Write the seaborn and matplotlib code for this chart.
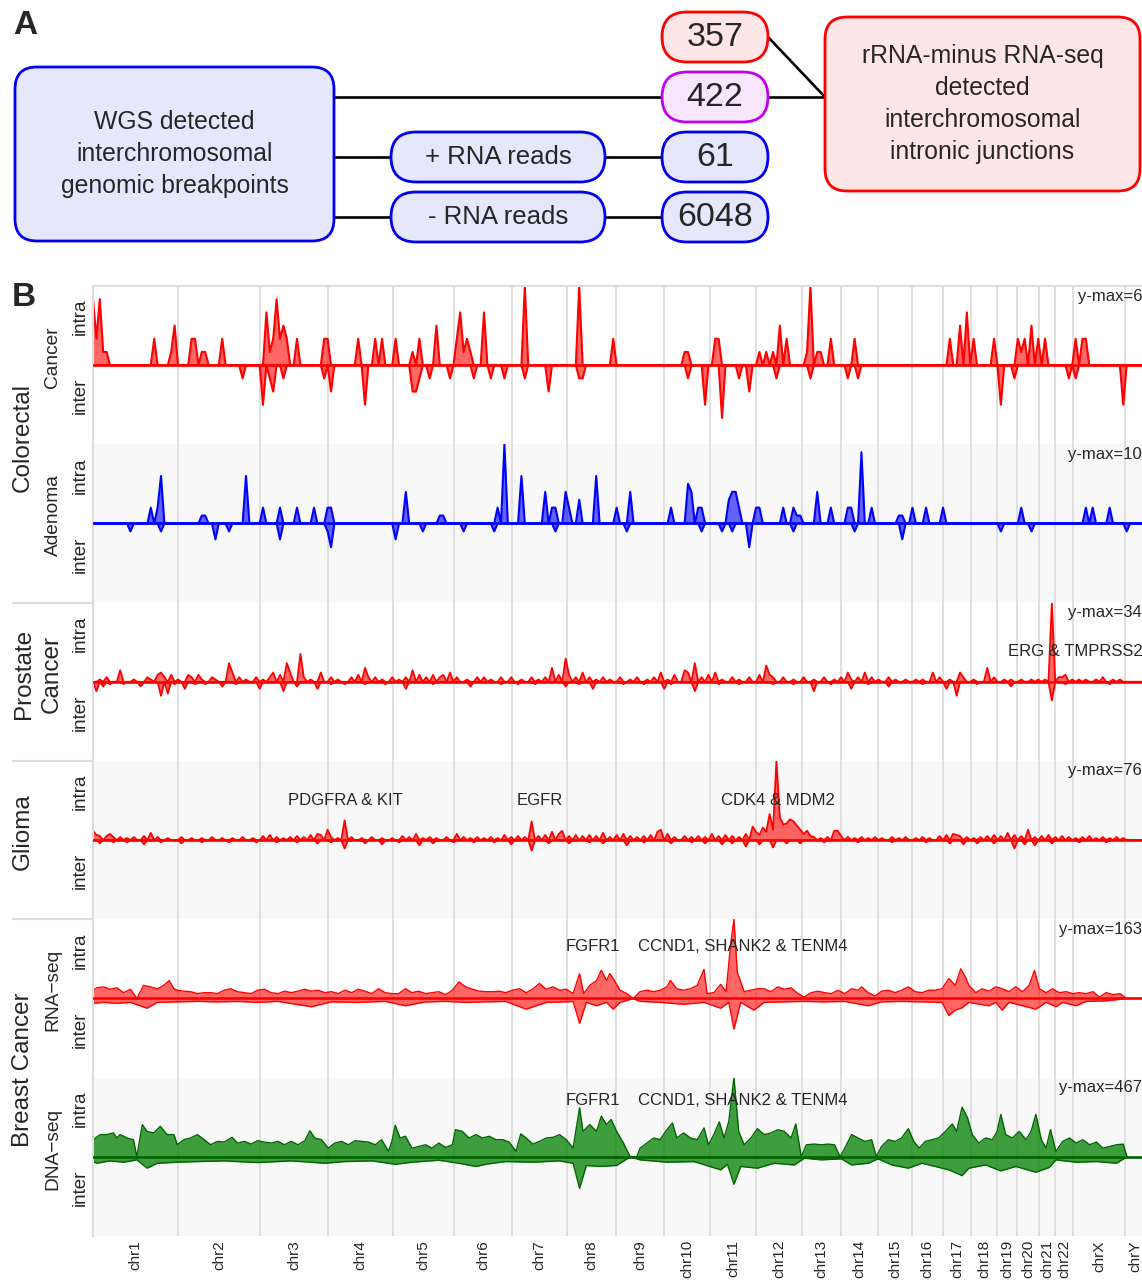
import numpy as np
import pandas as pd
import matplotlib
matplotlib.use("Agg")
import matplotlib.pyplot as plt
import seaborn as sns
from matplotlib.patches import FancyBboxPatch
from matplotlib.transforms import blended_transform_factory

# ── Genome axis (hg19) ────────────────────────────────────────────────────────
CHROMS = ["chr1", "chr2", "chr3", "chr4", "chr5", "chr6", "chr7", "chr8",
          "chr9", "chr10", "chr11", "chr12", "chr13", "chr14", "chr15",
          "chr16", "chr17", "chr18", "chr19", "chr20", "chr21", "chr22",
          "chrX", "chrY"]
CHROM_LEN_MB = [249.25, 243.20, 198.02, 191.15, 180.92, 171.12, 159.14,
                146.36, 141.21, 135.53, 135.01, 133.85, 115.17, 107.35,
                102.53, 90.35, 81.20, 78.08, 59.13, 63.03, 48.13, 51.30,
                155.27, 59.37]
BIN_MB = 10

# ── Panel A counts ────────────────────────────────────────────────────────────
WGS_LABEL = "WGS detected\ninterchromosomal\ngenomic breakpoints"
RNA_LABEL = "rRNA-minus RNA-seq\ndetected\ninterchromosomal\nintronic junctions"
READ_GROUPS = ["+ RNA reads", "- RNA reads"]
COUNTS = ["357", "422", "61", "6048"]

# ── Panel B tracks: y-max of each track ───────────────────────────────────────
YMAX = [6, 10, 34, 76, 163, 467]

# sparse tracks: {genome position (Mb): junction count} on the 10 Mb bins
CRC_CANCER_INTRA = {
    0: 5, 10: 2, 20: 5, 30: 1, 40: 1, 180: 2, 230: 1, 240: 3, 290: 2, 300: 2,
    320: 1, 330: 1, 380: 2, 510: 4, 520: 1, 530: 2, 540: 5, 550: 2, 560: 3,
    570: 2, 600: 2, 680: 2, 690: 2, 780: 2, 830: 2, 850: 2, 890: 2, 940: 1,
    960: 2, 1010: 3, 1070: 2, 1080: 4, 1090: 1, 1100: 2, 1110: 1, 1150: 4,
    1270: 6, 1430: 6, 1530: 2, 1740: 1, 1750: 1, 1830: 2, 1840: 2, 1960: 1,
    1980: 1, 2000: 1, 2020: 3, 2040: 2, 2100: 1, 2110: 6, 2130: 1, 2140: 1,
    2170: 2, 2240: 2, 2520: 2, 2550: 3, 2570: 4, 2590: 2, 2650: 2, 2720: 2,
    2730: 1, 2740: 2, 2760: 3, 2780: 2, 2800: 2, 2890: 2, 2910: 2, 2920: 2,
}
CRC_CANCER_INTER = {
    440: 1, 500: 3, 520: 1, 530: 2, 560: 1, 680: 1, 700: 2, 800: 3, 940: 2,
    950: 2, 960: 1, 990: 1, 1050: 1, 1120: 1, 1170: 1, 1210: 1, 1270: 1,
    1340: 2, 1430: 1, 1440: 1, 1750: 1, 1800: 3, 1850: 4, 1900: 1, 1930: 2,
    2010: 1, 2110: 1, 2220: 1, 2250: 1, 2670: 3, 2710: 1, 2870: 1, 2890: 1,
    3030: 3,
}
CRC_ADENOMA_INTRA = {
    170: 2, 190: 2, 200: 6, 320: 1, 330: 1, 450: 6, 500: 2, 550: 2, 600: 2,
    650: 2, 690: 2, 700: 2, 920: 4, 1020: 1, 1030: 1, 1190: 2, 1210: 10,
    1260: 6, 1330: 4, 1350: 2, 1360: 2, 1390: 4, 1400: 2, 1430: 3, 1480: 6,
    1540: 2, 1580: 4, 1700: 2, 1750: 5, 1760: 4, 1780: 2, 1790: 2, 1870: 3,
    1880: 4, 1890: 4, 1900: 2, 1950: 2, 1960: 2, 2030: 2, 2060: 2, 2070: 1,
    2080: 1, 2130: 4, 2170: 2, 2220: 2, 2230: 2, 2260: 9, 2290: 2, 2370: 1,
    2380: 1, 2410: 2, 2450: 2, 2500: 2, 2730: 2, 2920: 2, 2940: 2, 2990: 2,
}
CRC_ADENOMA_INTER = {
    110: 1, 200: 1, 360: 2, 400: 1, 550: 2, 690: 1, 700: 3, 890: 2, 970: 1,
    1090: 1, 1180: 1, 1360: 1, 1570: 1, 1790: 1, 1850: 1, 1880: 1, 1930: 3,
    2060: 1, 2240: 1, 2380: 2, 2670: 1, 2760: 1, 3040: 1,
}
PROSTATE_INTRA = {
    20: 1, 40: 2, 80: 5, 120: 1, 160: 2, 170: 1, 190: 3, 200: 4, 210: 2,
    230: 3, 250: 1, 280: 3, 290: 2, 310: 3, 320: 1, 350: 2, 360: 1, 400: 8,
    410: 4, 430: 2, 450: 1, 480: 2, 500: 1, 520: 2, 530: 4, 550: 3, 570: 8,
    580: 4, 610: 12, 620: 2, 640: 1, 670: 4, 700: 2, 720: 1, 760: 2, 780: 3,
    800: 6, 810: 2, 830: 2, 850: 1, 880: 2, 900: 1, 920: 2, 940: 5, 960: 3,
    980: 2, 1000: 3, 1020: 2, 1030: 3, 1050: 4, 1070: 2, 1100: 1, 1130: 2,
    1150: 2, 1170: 1, 1200: 2, 1230: 2, 1260: 1, 1290: 2, 1310: 1, 1330: 2,
    1350: 6, 1370: 3, 1390: 10, 1400: 3, 1420: 2, 1440: 4, 1460: 2, 1480: 1,
    1500: 2, 1520: 1, 1550: 2, 1580: 1, 1600: 2, 1630: 1, 1650: 2, 1670: 4,
    1690: 1, 1710: 3, 1740: 5, 1750: 4, 1770: 8, 1790: 2, 1810: 3, 1830: 4,
    1850: 1, 1880: 2, 1900: 1, 1930: 2, 1960: 3, 1980: 7, 1990: 3, 2000: 2,
    2030: 2, 2060: 1, 2090: 2, 2120: 1, 2150: 2, 2180: 1, 2200: 2, 2220: 4,
    2230: 1, 2250: 2, 2270: 4, 2290: 2, 2310: 1, 2340: 2, 2360: 1, 2390: 1,
    2420: 1, 2440: 1, 2470: 4, 2490: 2, 2520: 1, 2550: 4, 2560: 2, 2590: 1,
    2630: 6, 2650: 2, 2680: 1, 2700: 1, 2730: 1, 2760: 1, 2780: 1, 2800: 1,
    2820: 34, 2840: 2, 2850: 2, 2860: 3, 2880: 1, 2900: 1, 2920: 1, 2950: 1,
    2970: 2, 3000: 1, 3020: 1,
}
PROSTATE_INTER = {
    10: 4, 30: 2, 50: 1, 90: 1, 140: 2, 200: 6, 220: 5, 240: 1, 270: 3,
    300: 1, 330: 1, 380: 2, 420: 1, 490: 3, 560: 4, 600: 2, 660: 3, 700: 1,
    740: 1, 800: 1, 860: 1, 920: 3, 1000: 1, 1110: 2, 1200: 1, 1250: 1,
    1300: 1, 1390: 2, 1430: 1, 1470: 3, 1560: 1, 1620: 1, 1680: 3, 1700: 1,
    1770: 4, 1840: 1, 1900: 1, 2000: 1, 2060: 1, 2120: 4, 2170: 1, 2230: 3,
    2280: 1, 2340: 2, 2440: 1, 2510: 3, 2540: 6, 2600: 1, 2700: 2, 2820: 8,
    2860: 1, 2990: 1,
}
GLIOMA_INTRA = {
    0: 9, 10: 5, 20: 4, 40: 4, 50: 6, 60: 3, 80: 3, 100: 2, 120: 3, 150: 4,
    170: 7, 190: 3, 220: 2, 260: 3, 290: 2, 320: 2, 350: 3, 380: 2, 410: 2,
    440: 3, 470: 2, 500: 4, 520: 5, 540: 3, 560: 2, 580: 3, 600: 4, 620: 3,
    640: 5, 660: 6, 670: 5, 690: 10, 700: 3, 720: 2, 740: 19, 760: 3, 790: 2,
    820: 3, 850: 2, 880: 2, 910: 4, 930: 3, 950: 6, 970: 2, 990: 3, 1010: 2,
    1040: 3, 1070: 6, 1090: 3, 1110: 2, 1130: 3, 1150: 2, 1170: 3, 1190: 2,
    1210: 5, 1230: 3, 1250: 4, 1270: 3, 1290: 18, 1310: 4, 1330: 5, 1350: 8,
    1370: 6, 1380: 9, 1400: 4, 1420: 5, 1440: 4, 1460: 5, 1480: 4, 1500: 7,
    1520: 3, 1540: 5, 1560: 6, 1580: 4, 1600: 3, 1620: 4, 1640: 5, 1660: 8,
    1670: 10, 1690: 6, 1710: 3, 1740: 4, 1760: 3, 1780: 4, 1800: 3, 1820: 6,
    1840: 4, 1860: 5, 1880: 4, 1900: 3, 1920: 6, 1940: 13, 1950: 8, 1960: 5,
    1970: 12, 1980: 8, 1990: 25, 2000: 10, 2010: 76, 2020: 22, 2030: 15,
    2040: 16, 2050: 20, 2060: 18, 2070: 14, 2080: 10, 2090: 6, 2100: 9,
    2110: 4, 2120: 3, 2140: 2, 2160: 3, 2180: 9, 2190: 9, 2200: 4, 2220: 3,
    2240: 2, 2260: 3, 2280: 2, 2300: 3, 2320: 2, 2350: 3, 2370: 2, 2390: 3,
    2420: 2, 2440: 3, 2460: 2, 2490: 4, 2510: 5, 2530: 6, 2540: 5, 2550: 4,
    2570: 3, 2590: 2, 2610: 3, 2630: 4, 2650: 5, 2670: 4, 2690: 7, 2710: 5,
    2730: 4, 2750: 10, 2770: 3, 2790: 4, 2810: 5, 2830: 3, 2850: 4, 2870: 3,
    2890: 2, 2910: 3, 2930: 4, 2950: 2, 2970: 3, 2990: 2, 3010: 3, 3030: 2,
}
GLIOMA_INTER = {
    20: 3, 60: 2, 100: 2, 150: 4, 200: 2, 260: 3, 320: 2, 400: 2, 480: 2,
    540: 2, 600: 2, 660: 3, 700: 2, 740: 8, 800: 3, 850: 4, 900: 2, 960: 5,
    1000: 3, 1060: 2, 1120: 2, 1180: 2, 1230: 4, 1290: 10, 1340: 3, 1400: 3,
    1460: 2, 1500: 3, 1570: 5, 1620: 2, 1700: 3, 1760: 2, 1800: 3, 1850: 4,
    1880: 3, 1920: 6, 1960: 4, 2000: 7, 2040: 3, 2080: 3, 2150: 2, 2250: 2,
    2350: 2, 2450: 2, 2520: 3, 2560: 4, 2600: 3, 2650: 3, 2710: 8, 2740: 4,
    2770: 5, 2820: 3, 2900: 2, 2980: 2,
}

# dense tracks: (genome position Mb, junction count) profile points
BREAST_RNA_INTRA = [
    (0, 17), (11, 22), (31, 24), (50, 19), (70, 22), (90, 12), (110, 19),
    (129, 0), (149, 27), (169, 24), (189, 20), (208, 27), (224, 37), (238, 20),
    (248, 17), (267, 15), (287, 14), (307, 10), (327, 12), (346, 12), (366, 10),
    (386, 17), (405, 20), (425, 14), (445, 12), (465, 10), (484, 17), (504, 19),
    (524, 12), (544, 10), (563, 15), (583, 12), (603, 15), (623, 19), (642, 15),
    (662, 17), (682, 12), (701, 14), (721, 10), (741, 17), (761, 12), (780, 19),
    (800, 15), (820, 10), (840, 20), (859, 12), (879, 10), (899, 10), (919, 20),
    (938, 12), (958, 15), (978, 10), (997, 12), (1017, 14), (1037, 8),
    (1057, 17), (1076, 34), (1096, 24), (1116, 19), (1136, 15), (1155, 14),
    (1175, 14), (1195, 15), (1214, 12), (1234, 17), (1254, 20), (1274, 12),
    (1293, 19), (1313, 31), (1333, 19), (1353, 24), (1372, 17), (1392, 19),
    (1412, 10), (1431, 51), (1443, 10), (1461, 27), (1481, 37), (1495, 58),
    (1510, 37), (1520, 51), (1530, 41), (1550, 17), (1570, 10), (1589, 0),
    (1609, 14), (1629, 17), (1649, 14), (1668, 17), (1688, 24), (1698, 37),
    (1717, 20), (1737, 17), (1757, 20), (1777, 27), (1797, 60), (1806, 10),
    (1826, 12), (1846, 29), (1862, 14), (1875, 109), (1885, 163), (1895, 54),
    (1915, 14), (1935, 17), (1954, 20), (1974, 20), (1994, 14), (2014, 24),
    (2033, 19), (2053, 22), (2073, 10), (2092, 3), (2112, 12), (2132, 15),
    (2152, 12), (2171, 10), (2191, 17), (2211, 10), (2231, 20), (2250, 17),
    (2260, 24), (2280, 12), (2300, 5), (2319, 15), (2339, 17), (2359, 12),
    (2378, 17), (2398, 24), (2418, 14), (2438, 12), (2458, 17), (2477, 17),
    (2497, 20), (2517, 41), (2536, 27), (2552, 61), (2566, 44), (2576, 27),
    (2596, 12), (2615, 20), (2635, 15), (2655, 24), (2674, 20), (2694, 14),
    (2714, 24), (2734, 14), (2753, 27), (2769, 58), (2783, 20), (2803, 12),
    (2822, 20), (2842, 12), (2862, 14), (2882, 10), (2901, 12), (2921, 10),
    (2941, 14), (2960, 3), (2980, 12), (3000, 8), (3020, 10), (3040, 0),
]
BREAST_RNA_INTER = [
    (0, 10), (31, 8), (70, 10), (110, 8), (159, 20), (189, 8), (248, 7),
    (307, 6), (366, 7), (425, 6), (484, 8), (544, 6), (642, 17), (701, 7),
    (780, 8), (859, 6), (919, 15), (978, 7), (1037, 6), (1096, 8), (1155, 7),
    (1214, 6), (1274, 22), (1333, 8), (1392, 7), (1412, 6), (1431, 51),
    (1451, 8), (1481, 15), (1510, 8), (1530, 22), (1550, 8), (1589, 0),
    (1609, 6), (1668, 8), (1737, 12), (1797, 8), (1846, 20), (1870, 8),
    (1885, 63), (1905, 8), (1944, 24), (1974, 8), (2033, 7), (2092, 6),
    (2152, 7), (2211, 6), (2280, 15), (2319, 7), (2378, 6), (2438, 7),
    (2497, 8), (2517, 35), (2536, 24), (2556, 19), (2576, 8), (2635, 15),
    (2655, 8), (2674, 24), (2694, 8), (2773, 22), (2803, 8), (2832, 17),
    (2852, 8), (2891, 15), (2921, 6), (2980, 5), (3040, 0),
]
BREAST_DNA_INTRA = [
    (0, 32), (1, 101), (21, 131), (40, 131), (60, 141), (70, 111), (80, 131),
    (100, 111), (119, 101), (129, 0), (145, 190), (159, 150), (179, 141),
    (198, 180), (218, 131), (238, 131), (248, 71), (267, 101), (287, 111),
    (307, 131), (327, 101), (346, 71), (366, 91), (386, 87), (409, 115),
    (425, 81), (445, 91), (465, 75), (484, 95), (504, 87), (524, 81),
    (544, 91), (563, 71), (583, 91), (603, 71), (623, 95), (638, 154),
    (652, 111), (672, 101), (692, 51), (711, 81), (731, 91), (751, 71),
    (771, 95), (790, 91), (810, 87), (830, 71), (849, 101), (869, 32),
    (879, 91), (889, 186), (903, 111), (919, 121), (938, 51), (958, 61),
    (978, 71), (997, 51), (1017, 81), (1037, 55), (1057, 71), (1066, 160),
    (1086, 150), (1106, 111), (1126, 131), (1145, 111), (1165, 121),
    (1185, 101), (1205, 101), (1224, 87), (1244, 32), (1258, 135), (1274, 111),
    (1293, 75), (1313, 91), (1333, 111), (1353, 115), (1372, 131), (1392, 101),
    (1412, 51), (1431, 289), (1441, 150), (1461, 190), (1481, 150),
    (1495, 240), (1510, 190), (1524, 220), (1540, 150), (1560, 81), (1580, 0),
    (1599, 0), (1609, 51), (1629, 81), (1649, 111), (1668, 101), (1684, 150),
    (1704, 200), (1717, 111), (1737, 141), (1757, 111), (1777, 101),
    (1797, 170), (1810, 71), (1826, 131), (1842, 206), (1856, 111),
    (1870, 210), (1885, 467), (1899, 150), (1915, 71), (1935, 111),
    (1954, 166), (1974, 131), (1994, 141), (2014, 160), (2033, 150),
    (2053, 111), (2067, 194), (2083, 0), (2098, 71), (2122, 75), (2142, 71),
    (2162, 75), (2181, 71), (2197, 0), (2211, 51), (2231, 131), (2250, 111),
    (2270, 91), (2290, 101), (2304, 0), (2319, 61), (2339, 101), (2359, 91),
    (2378, 111), (2398, 166), (2414, 91), (2430, 51), (2448, 91), (2467, 101),
    (2487, 111), (2507, 150), (2527, 194), (2540, 150), (2556, 293),
    (2572, 230), (2586, 131), (2605, 81), (2625, 111), (2645, 101),
    (2659, 150), (2670, 250), (2684, 131), (2704, 111), (2724, 150),
    (2744, 101), (2759, 150), (2773, 250), (2789, 101), (2803, 51),
    (2816, 160), (2832, 32), (2852, 91), (2872, 111), (2891, 81), (2911, 101),
    (2931, 71), (2951, 87), (2970, 51), (2990, 61), (3010, 71), (3030, 75),
    (3041, 0),
]
BREAST_DNA_INTER = [
    (0, 28), (11, 38), (50, 24), (90, 32), (129, 18), (159, 67), (189, 38),
    (248, 32), (307, 28), (386, 24), (484, 34), (583, 24), (682, 38),
    (741, 28), (820, 24), (889, 44), (938, 32), (1017, 20), (1076, 38),
    (1126, 57), (1155, 44), (1214, 28), (1293, 32), (1372, 24), (1412, 38),
    (1431, 186), (1451, 51), (1491, 57), (1540, 51), (1580, 0), (1609, 18),
    (1688, 32), (1767, 28), (1846, 77), (1866, 44), (1885, 162), (1905, 57),
    (1954, 67), (2004, 38), (2063, 48), (2092, 8), (2142, 18), (2201, 12),
    (2231, 48), (2280, 38), (2309, 12), (2349, 48), (2398, 67), (2438, 38),
    (2477, 57), (2517, 77), (2556, 111), (2576, 67), (2625, 48), (2670, 83),
    (2714, 57), (2773, 91), (2812, 63), (2832, 18), (2891, 32), (2951, 28),
    (3010, 38), (3041, 0),
]

# gene annotations: (track index, label, genome position Mb)
GENE_LABELS = [
    (2, "ERG & TMPRSS2", 2888),
    (3, "PDGFRA & KIT", 741),
    (3, "EGFR", 1315),
    (3, "CDK4 & MDM2", 2015),
    (4, "FGFR1", 1471),
    (4, "CCND1, SHANK2 & TENM4", 1912),
    (5, "FGFR1", 1471),
    (5, "CCND1, SHANK2 & TENM4", 1912),
]

# ── Layout (pixels) ───────────────────────────────────────────────────────────
FIG_W, FIG_H = 1142, 1282
PLOT_LEFT, PLOT_RIGHT, PLOT_TOP = 93, 1142, 286
TRACK_H = 158.33
MB_PER_PX = 2.941
XMAX = (PLOT_RIGHT - PLOT_LEFT) * MB_PER_PX
GENE_LABEL_Y = {2: 0.694, 3: 0.753, 4: 0.831, 5: 0.858}

BLUE, RED, PURPLE = "#0000ee", "#ff0000", "#c000f0"
BLUE_FILL, RED_FILL, PURPLE_FILL = "#e6e6fc", "#ffe6e6", "#f8e6fc"
GRID_GRAY = "#dddddd"
BG_GRAY = "#f8f8f8"

sns.set_theme(style="white")
plt.rcParams["font.family"] = ["Liberation Sans", "DejaVu Sans"]

bounds = np.cumsum(CHROM_LEN_MB)
starts = bounds - np.array(CHROM_LEN_MB)
mids = starts + np.array(CHROM_LEN_MB) / 2
grid = np.arange(0, bounds[-1], BIN_MB)


def sparse_profile(points):
    values = np.zeros(len(grid))
    for pos, val in points.items():
        values[int(round(pos / BIN_MB))] = val
    return pd.DataFrame({"pos": grid, "count": values})


def dense_profile(points):
    return pd.DataFrame(points, columns=["pos", "count"])


tracks = [
    (sparse_profile(CRC_CANCER_INTRA), sparse_profile(CRC_CANCER_INTER), RED, RED, 0.6, 1.5),
    (sparse_profile(CRC_ADENOMA_INTRA), sparse_profile(CRC_ADENOMA_INTER), "#0000ff", "#0000ff", 0.6, 1.5),
    (sparse_profile(PROSTATE_INTRA), sparse_profile(PROSTATE_INTER), RED, RED, 0.6, 1.3),
    (sparse_profile(GLIOMA_INTRA), sparse_profile(GLIOMA_INTER), RED, RED, 0.6, 1.3),
    (dense_profile(BREAST_RNA_INTRA), dense_profile(BREAST_RNA_INTER), RED, RED, 0.6, 1.0),
    (dense_profile(BREAST_DNA_INTRA), dense_profile(BREAST_DNA_INTER), "#006400", "#008000", 0.75, 1.0),
]

fig = plt.figure(figsize=(FIG_W / 100, FIG_H / 100), dpi=100)

# overlay in pixel coordinates for panel A and track labels
ov = fig.add_axes([0, 0, 1, 1])
ov.set_xlim(0, FIG_W)
ov.set_ylim(FIG_H, 0)
ov.axis("off")


def box(x0, y0, x1, y1, edge, face, radius, text, size):
    ov.add_patch(FancyBboxPatch((x0, y0), x1 - x0, y1 - y0,
                                boxstyle=f"round,pad=0,rounding_size={radius}",
                                fc=face, ec=edge, lw=2.0, zorder=3))
    ov.text((x0 + x1) / 2, (y0 + y1) / 2, text, ha="center", va="center",
            fontsize=size, linespacing=1.42, zorder=4)


# connectors
for (xa, ya), (xb, yb) in [((334, 97), (662, 97)), ((334, 157), (391, 157)),
                           ((605, 157), (662, 157)), ((334, 217), (391, 217)),
                           ((605, 217), (662, 217)), ((768, 97), (825, 97)),
                           ((768, 37), (825, 97))]:
    ov.plot([xa, xb], [ya, yb], color="black", lw=1.9, zorder=2,
            solid_capstyle="butt")

box(15, 67, 334, 241, BLUE, BLUE_FILL, 22, WGS_LABEL, 17.8)
box(391, 132, 605, 182, BLUE, BLUE_FILL, 25, READ_GROUPS[0], 18.5)
box(391, 192, 605, 242, BLUE, BLUE_FILL, 25, READ_GROUPS[1], 18.5)
box(662, 12, 768, 62, RED, RED_FILL, 25, COUNTS[0], 24.5)
box(662, 72, 768, 122, PURPLE, PURPLE_FILL, 25, COUNTS[1], 24.5)
box(662, 132, 768, 182, BLUE, BLUE_FILL, 25, COUNTS[2], 24.5)
box(662, 192, 768, 242, BLUE, BLUE_FILL, 25, COUNTS[3], 24.5)
box(825, 17, 1140, 191, RED, RED_FILL, 22, RNA_LABEL, 17.8)

ov.text(13, 25, "A", fontsize=24, fontweight="bold", ha="left", va="center")
ov.text(12, 298, "B", fontsize=24, fontweight="bold", ha="left", va="center")

# group separators in the label column
for y in (602.7, 761, 919.3):
    ov.plot([13, 92], [y, y], color=GRID_GRAY, lw=1.6, zorder=1)

track_tops = [PLOT_TOP + i * TRACK_H for i in range(6)]
sub_labels = ["Cancer", "Adenoma", None, None, "RNA\u2212seq", "DNA\u2212seq"]
for top, sub in zip(track_tops, sub_labels):
    ov.text(80, top + 31, "intra", rotation=90, ha="center", va="center", fontsize=13.5)
    ov.text(80, top + 110, "inter", rotation=90, ha="center", va="center", fontsize=13.5)
    if sub:
        ov.text(53, top + 71, sub, rotation=90, ha="center", va="center", fontsize=13.8)

ov.text(23, 438, "Colorectal", rotation=90, ha="center", va="center", fontsize=17.5)
ov.text(38, 674, "Prostate\nCancer", rotation=90, ha="center", va="center",
        fontsize=17.5, linespacing=1.3)
ov.text(23, 832, "Glioma", rotation=90, ha="center", va="center", fontsize=17.5)
ov.text(23, 1070, "Breast Cancer", rotation=90, ha="center", va="center", fontsize=17.5)

# ── Panel B tracks ────────────────────────────────────────────────────────────
for i, (intra, inter, line_c, fill_c, alpha, lw) in enumerate(tracks):
    top = track_tops[i]
    ax = fig.add_axes([PLOT_LEFT / FIG_W, 1 - (top + TRACK_H) / FIG_H,
                       (PLOT_RIGHT - PLOT_LEFT) / FIG_W, TRACK_H / FIG_H])
    ax.set_facecolor(BG_GRAY if i % 2 else "white")
    for b in bounds[:-1]:
        ax.axvline(b, color=GRID_GRAY, lw=1.3, zorder=0)

    down = inter.assign(count=-inter["count"])
    ax.fill_between(intra["pos"], 0, intra["count"], color=fill_c, alpha=alpha, lw=0, zorder=1)
    ax.fill_between(down["pos"], 0, down["count"], color=fill_c, alpha=alpha, lw=0, zorder=1)
    sns.lineplot(data=intra, x="pos", y="count", ax=ax, color=line_c, lw=lw,
                 estimator=None, zorder=2)
    sns.lineplot(data=down, x="pos", y="count", ax=ax, color=line_c, lw=lw,
                 estimator=None, zorder=2)
    ax.axhline(0, color=line_c, lw=1.9, zorder=3)

    ax.set_xlim(0, XMAX)
    ax.set_ylim(-YMAX[i], YMAX[i])
    ax.set(xlabel=None, ylabel=None)
    ax.set_yticks([])
    for side in ("top", "right", "bottom"):
        ax.spines[side].set_visible(False)
    ax.spines["left"].set_color(GRID_GRAY)
    ax.spines["left"].set_linewidth(1.5)
    if i == 0:
        ax.spines["top"].set_visible(True)
        ax.spines["top"].set_color(GRID_GRAY)
        ax.spines["top"].set_linewidth(1.5)

    ax.text(1.0, 1 - 10 / TRACK_H, f"y-max={YMAX[i]}", transform=ax.transAxes,
            ha="right", va="center", fontsize=12)
    trans = blended_transform_factory(ax.transData, ax.transAxes)
    for t, label, pos in GENE_LABELS:
        if t == i:
            ax.text(pos, GENE_LABEL_Y[t], label, transform=trans, ha="center",
                    va="center", fontsize=12, zorder=5)

    if i == 5:
        ax.set_xticks(mids)
        ax.set_xticklabels(CHROMS, rotation=90, fontsize=11)
        ax.tick_params(axis="x", length=0, pad=3)
    else:
        ax.set_xticks([])

fig.savefig("out.png", dpi=100)
